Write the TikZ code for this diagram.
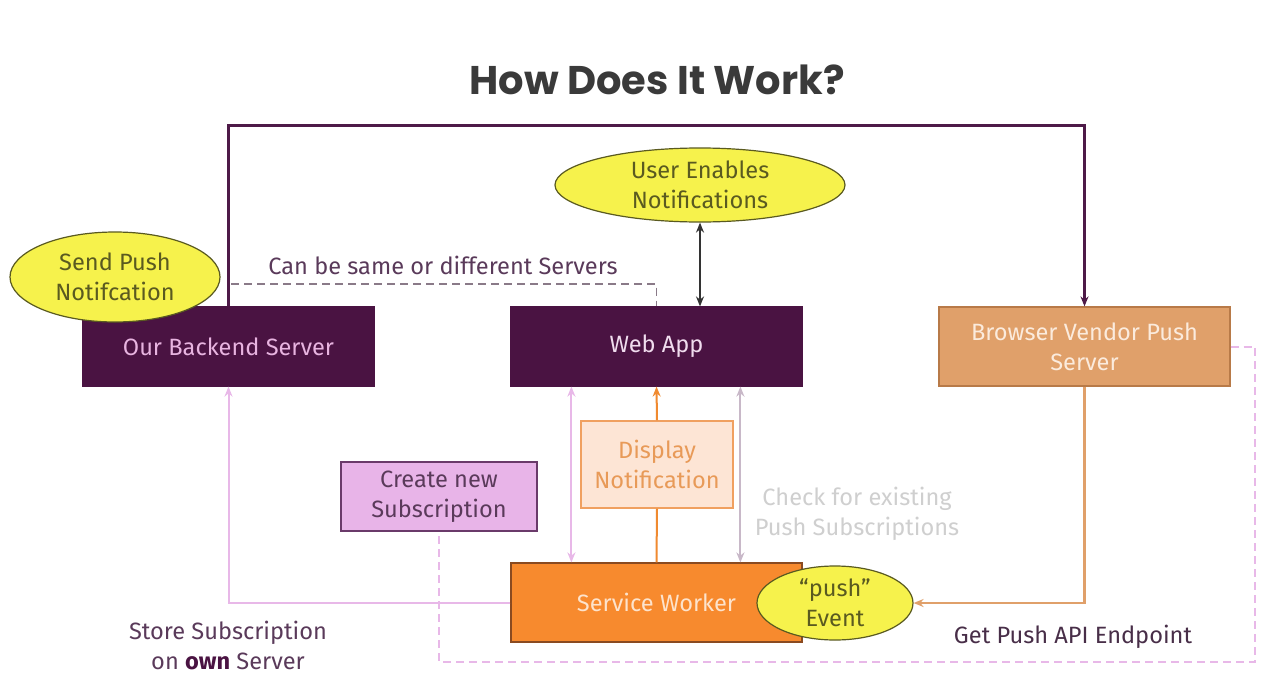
\documentclass[tikz,border=0pt]{standalone}
\usepackage{fontspec}
\setmainfont{Fira Sans}
\newfontfamily\titlefont{Poppins}
\usetikzlibrary{shapes.geometric,arrows.meta,calc}
\definecolor{dpurple}{HTML}{4A1342}
\definecolor{linepurple}{HTML}{4E1A48}
\definecolor{bkText}{HTML}{E8B4E0}
\definecolor{webText}{HTML}{F0DCEE}
\definecolor{vendFill}{HTML}{E0A06A}
\definecolor{vendDraw}{HTML}{B87A48}
\definecolor{vendText}{HTML}{FBEBDD}
\definecolor{swFill}{HTML}{F78A2E}
\definecolor{swDraw}{HTML}{8A4A20}
\definecolor{swText}{HTML}{FDE3CC}
\definecolor{yel}{HTML}{F6F24C}
\definecolor{yelDraw}{HTML}{5A5A20}
\definecolor{yelText}{HTML}{5A5A20}
\definecolor{pinkFill}{HTML}{E8B4E8}
\definecolor{pinkDraw}{HTML}{6A3A6A}
\definecolor{pinkLine}{HTML}{E8B8E8}
\definecolor{plumText}{HTML}{5A3A5A}
\definecolor{dispFill}{HTML}{FDE5D5}
\definecolor{dispDraw}{HTML}{F0A060}
\definecolor{dispText}{HTML}{E89A58}
\definecolor{orangeLine}{HTML}{F08A30}
\definecolor{grayDash}{HTML}{8A7A88}
\definecolor{checkLine}{HTML}{C8B8C8}
\definecolor{checkText}{HTML}{CFCFCF}
\definecolor{titleCol}{HTML}{3A3A3A}
\tikzset{
  box/.style={rectangle, minimum width=145.5pt, minimum height=39.5pt, inner sep=0pt, font=\fontsize{11.8}{15}\selectfont, align=center, line width=0.6pt},
  bubble/.style={ellipse, fill=yel, draw=yelDraw, line width=0.6pt, inner sep=0pt, text=yelText, font=\fontsize{11.8}{15}\selectfont, align=center},
  lbl/.style={font=\fontsize{11.8}{15}\selectfont, align=center},
  tip/.style={-{Stealth[length=5pt,width=4pt]}},
  tips/.style={{Stealth[length=5pt,width=4pt]}-{Stealth[length=5pt,width=4pt]}}
}
\begin{document}
\begin{tikzpicture}[x=0.5pt,y=-0.5pt]
\useasboundingbox (0,0) rectangle (1280,685);
\fill[white] (0,0) rectangle (1280,685);
% title
\node[font=\titlefont\bfseries\fontsize{20}{24}\selectfont, text=titleCol] (title) at (657,80) {How Does It Work?};
% boxes
\node[box, fill=dpurple, draw=dpurple, text=bkText] (backend) at (228.5,346.5) {Our Backend Server};
\node[box, fill=dpurple, draw=dpurple, text=webText] (web) at (656.5,346.5) {Web App};
\node[box, fill=vendFill, draw=vendDraw, text=vendText] (vendor) at (1084.5,346.5) {Browser Vendor Push\\Server};
\node[box, fill=swFill, draw=swDraw, text=swText] (sw) at (656.5,602.5) {Service Worker};
\node[box, fill=pinkFill, draw=pinkDraw, text=plumText, minimum width=98pt, minimum height=34.5pt] (create) at (439,496.5) {Create new\\Subscription};
\node[box, fill=dispFill, draw=dispDraw, text=dispText, minimum width=76pt, minimum height=43.5pt] (disp) at (657,464.5) {Display\\Notification};
% bubbles
\node[bubble, minimum width=145pt, minimum height=37pt] (user) at (700,185) {User Enables\\Notifications};
\node[bubble, minimum width=78pt, minimum height=37pt] (push) at (835,603) {``push''\\Event};
% coordinates
\coordinate (topc) at (657,125);
\coordinate (dstart) at (231,284);
\coordinate (pr) at (1255,662);
% connectors
\draw[linepurple, line width=1.5pt, tip] (backend.north) |- (topc) -| (vendor.north);
\draw[grayDash, line width=0.8pt, dash pattern=on 4pt off 2.5pt] (dstart) -| (web.north);
\draw[black!80, line width=0.8pt, tips] (user.south) -- (user.south |- web.north);
\draw[pinkLine, line width=1pt, dash pattern=on 4pt off 2.5pt] (vendor.east) -| (pr) -| (create.south);
\draw[pinkLine, line width=1pt, tip] (sw.west) -| (backend.south);
\draw[pinkLine, line width=1pt, tips] ($(web.south west)+(61,0)$) -- ($(sw.north west)+(61,0)$);
\draw[orangeLine, line width=1pt] (sw.north) -- (disp.south);
\draw[orangeLine, line width=1pt, tip] (disp.north) -- (web.south);
\draw[checkLine, line width=1pt, tips] ($(web.south west)+(230,0)$) -- ($(sw.north west)+(230,0)$);
\draw[vendFill, line width=1.2pt, tip] (vendor.south) |- (push.east);
% bubble drawn over the line
\node[bubble, minimum width=105pt, minimum height=45pt] (send) at (115,277) {Send Push\\Notifcation};
% labels
\node[lbl, text=plumText] (lcan) at (443,265) {Can be same or different Servers};
\node[lbl, text=checkText] (lcheck) at (857,514) {Check for existing\\Push Subscriptions};
\node[lbl, text=plumText!80!black] (lget) at (1073,637) {Get Push API Endpoint};
\node[lbl, text=plumText] (lstore) at (228,645) {Store Subscription\\on {\bfseries\color{dpurple}own} Server};
\end{tikzpicture}
\end{document}
